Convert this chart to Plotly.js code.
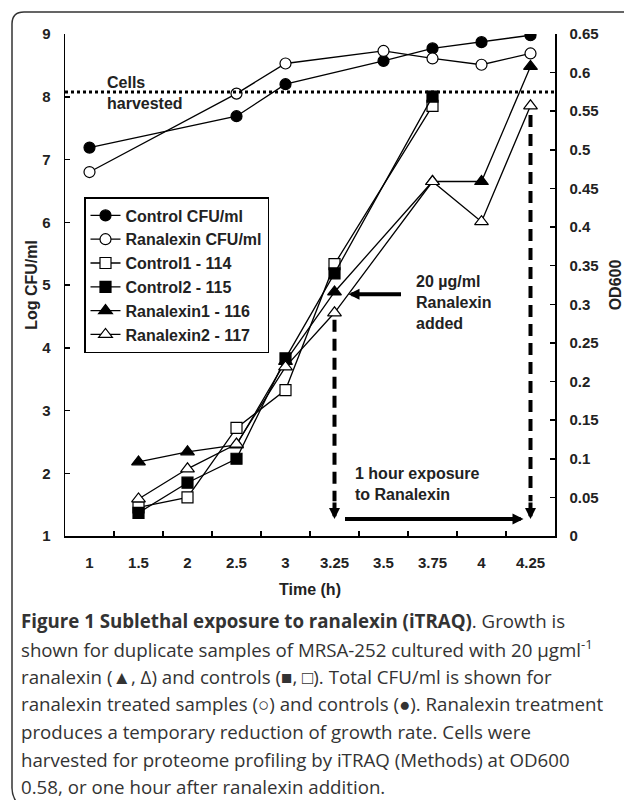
<!DOCTYPE html>
<html>
<head>
<meta charset="utf-8">
<script src="https://cdn.plot.ly/plotly-3.0.1.min.js"></script>
<style>html,body{margin:0;padding:0;background:#fff;}#chart{width:624px;height:800px;}</style>
</head>
<body>
<div id="chart"></div>
<script>
// ---- data ----
const timeCategories = ['1','1.5','2','2.5','3','3.25','3.5','3.75','4','4.25'];

const cfuTimes = ['1','2.5','3','3.5','3.75','4','4.25'];
const controlCfu = [7.19, 7.69, 8.20, 8.57, 8.77, 8.87, 8.98];
const ranalexinCfu = [6.80, 8.05, 8.53, 8.73, 8.61, 8.51, 8.69];

const controlOdTimes = ['1.5','2','2.5','3','3.25','3.75'];
const control1_114 = [0.037, 0.050, 0.140, 0.189, 0.352, 0.557];
const control2_115 = [0.030, 0.069, 0.100, 0.230, 0.340, 0.569];

const ranalexinOdTimes = ['1.5','2','2.5','3','3.25','3.75','4','4.25'];
const ranalexin1_116 = [0.096, 0.109, 0.118, 0.226, 0.316, 0.459, 0.459, 0.608];
const ranalexin2_117 = [0.048, 0.087, 0.119, 0.219, 0.289, 0.459, 0.407, 0.557];

const harvestOD = 0.575;
const additionTime = '3.25';
const harvestTime = '4.25';

const captionLines = [
  '<b>Figure 1 Sublethal exposure to ranalexin (iTRAQ)</b>. Growth is',
  'shown for duplicate samples of MRSA-252 cultured with 20 µgml<sup>-1</sup>',
  'ranalexin (▲, Δ) and controls (■, □). Total CFU/ml is shown for',
  'ranalexin treated samples (○) and controls (●). Ranalexin treatment',
  'produces a temporary reduction of growth rate. Cells were',
  'harvested for proteome profiling by iTRAQ (Methods) at OD600',
  '0.58, or one hour after ranalexin addition.'
];

// ---- layout constants ----
const W = 624, H = 800;
const M = {l: 65, r: 69, t: 34, b: 264};
const PW = W - M.l - M.r, PH = H - M.t - M.b;
const px2x = p => (p - M.l) / PW;
const px2y = p => (H - M.b - p) / PH;
// category position index (numeric-looking category names would otherwise be read as indices)
const catIdx = c => timeCategories.indexOf(c);
const addIdx = catIdx(additionTime);
const harvIdx = catIdx(harvestTime);

const FONT = 'Liberation Sans, Arial, sans-serif';
const lineStyle = {color: '#000', width: 1.3};

function series(name, x, y, symbol, fill, axis, size) {
  return {
    type: 'scatter', mode: 'lines+markers', name: name, x: x, y: y, yaxis: axis,
    line: lineStyle,
    marker: {symbol: symbol, size: size, color: fill, line: {color: '#000', width: 1.2}}
  };
}

const traces = [
  series('Control CFU/ml', cfuTimes, controlCfu, 'circle', '#000', 'y', 11),
  series('Ranalexin CFU/ml', cfuTimes, ranalexinCfu, 'circle', '#fff', 'y', 11),
  series('Control1 - 114', controlOdTimes, control1_114, 'square', '#fff', 'y2', 11),
  series('Control2 - 115', controlOdTimes, control2_115, 'square', '#000', 'y2', 11),
  series('Ranalexin1 - 116', ranalexinOdTimes, ranalexin1_116, 'triangle-up', '#000', 'y2', 12),
  series('Ranalexin2 - 117', ranalexinOdTimes, ranalexin2_117, 'triangle-up', '#fff', 'y2', 12)
];

const tickFont = {family: FONT, size: 15, color: '#222', weight: 'bold'};
const titleFont = {family: FONT, size: 16, color: '#222', weight: 'bold'};
const labelFont = {family: FONT, size: 16, color: '#222', weight: 'bold'};

// border path (figure frame)
const borderPath = 'M ' + px2x(640) + ' ' + px2y(12) +
  ' L ' + px2x(24) + ' ' + px2y(12) +
  ' Q ' + px2x(12) + ' ' + px2y(12) + ' ' + px2x(12) + ' ' + px2y(24) +
  ' L ' + px2x(12) + ' ' + px2y(788) +
  ' Q ' + px2x(12) + ' ' + px2y(797) + ' ' + px2x(18) + ' ' + px2y(804);

const shapes = [
  {type: 'path', xref: 'paper', yref: 'paper', path: borderPath, line: {color: '#333', width: 1.5}},
  {type: 'line', xref: 'paper', yref: 'y2', x0: 0, x1: 1, y0: harvestOD, y1: harvestOD,
   line: {color: '#000', width: 3, dash: 'dot'}},
  {type: 'line', xref: 'x', yref: 'y2', x0: addIdx, x1: addIdx, y0: 0.28, y1: 0.045,
   line: {color: '#000', width: 4, dash: '12px,7px'}},
  {type: 'line', xref: 'x', yref: 'y2', x0: harvIdx, x1: harvIdx, y0: 0.545, y1: 0.045,
   line: {color: '#000', width: 4, dash: '12px,7px'}}
];

const annotations = [
  {xref: 'paper', yref: 'paper', x: px2x(105), y: px2y(92.5), xanchor: 'left', yanchor: 'middle', align: 'left',
   text: 'Cells<br>harvested', showarrow: false, font: labelFont},
  {xref: 'paper', yref: 'paper', x: px2x(414), y: px2y(302), xanchor: 'left', yanchor: 'middle', align: 'left',
   text: '20 µg/ml<br>Ranalexin<br>added', showarrow: false, font: labelFont},
  {xref: 'paper', yref: 'paper', x: px2x(353), y: px2y(483.5), xanchor: 'left', yanchor: 'middle', align: 'left',
   text: '1 hour exposure<br>to Ranalexin', showarrow: false, font: labelFont},
  // arrows
  {xref: 'x', yref: 'y2', x: addIdx, y: 0.022, ax: 0, ay: -18, text: '', showarrow: true,
   arrowhead: 2, arrowsize: 0.55, arrowwidth: 4, arrowcolor: '#000', standoff: 0},
  {xref: 'x', yref: 'y2', x: harvIdx, y: 0.022, ax: 0, ay: -18, text: '', showarrow: true,
   arrowhead: 2, arrowsize: 0.55, arrowwidth: 4, arrowcolor: '#000', standoff: 0},
  {xref: 'x', yref: 'y2', x: harvIdx, xshift: -7, y: 0.022, ax: -180, ay: 0, text: '', showarrow: true,
   arrowhead: 2, arrowsize: 0.55, arrowwidth: 4, arrowcolor: '#000', standoff: 0},
  {xref: 'x', yref: 'y2', x: addIdx, xshift: 14, y: 0.313, ax: 54, ay: 0, text: '', showarrow: true,
   arrowhead: 2, arrowsize: 0.55, arrowwidth: 4, arrowcolor: '#000', standoff: 0}
];

// caption
const capY = [620, 648, 676, 703, 731, 759, 786];
captionLines.forEach((t, i) => {
  annotations.push({xref: 'paper', yref: 'paper', x: px2x(19), y: px2y(capY[i]), xanchor: 'left', yanchor: 'middle',
    align: 'left', text: t, showarrow: false,
    font: {family: 'Open Sans, Noto Sans, sans-serif', size: 18.7, color: '#333'}});
});

const layout = {
  width: W, height: H,
  margin: M,
  paper_bgcolor: '#fff', plot_bgcolor: '#fff',
  showlegend: true,
  legend: {x: px2x(84), y: px2y(197), xanchor: 'left', yanchor: 'top',
    bgcolor: '#fff', bordercolor: '#000', borderwidth: 1.5,
    font: {family: FONT, size: 16, color: '#222', weight: 'bold'},
    traceorder: 'normal', itemwidth: 30},
  xaxis: {
    type: 'category', categoryorder: 'array', categoryarray: timeCategories,
    range: [-0.5, 9.5], fixedrange: true,
    tickson: 'boundaries', ticks: 'inside', ticklen: 5, tickwidth: 1.5, tickcolor: '#000',
    showline: true, linecolor: '#000', linewidth: 1.5, mirror: false, showgrid: false, zeroline: false,
    tickfont: tickFont, ticklabelstandoff: 12,
    title: {text: 'Time (h)', font: titleFont, standoff: 14}
  },
  yaxis: {
    range: [1, 9], dtick: 1, tick0: 1,
    ticks: 'inside', ticklen: 5, tickwidth: 1.5, tickcolor: '#000',
    showline: true, linecolor: '#000', linewidth: 1.5, showgrid: false, zeroline: false,
    tickfont: tickFont, ticklabelstandoff: 10,
    title: {text: 'Log CFU/ml', font: titleFont, standoff: 0}
  },
  yaxis2: {
    overlaying: 'y', side: 'right', range: [0, 0.65], dtick: 0.05, tick0: 0,
    ticks: 'inside', ticklen: 5, tickwidth: 1.5, tickcolor: '#000',
    showline: true, linecolor: '#000', linewidth: 1.5, showgrid: false, zeroline: false,
    tickfont: tickFont, ticklabelstandoff: 10,
    title: {text: 'OD600', font: titleFont, standoff: 12}
  },
  shapes: shapes,
  annotations: annotations
};

Plotly.newPlot('chart', traces, layout, {displayModeBar: false, staticPlot: true});
</script>
</body>
</html>
